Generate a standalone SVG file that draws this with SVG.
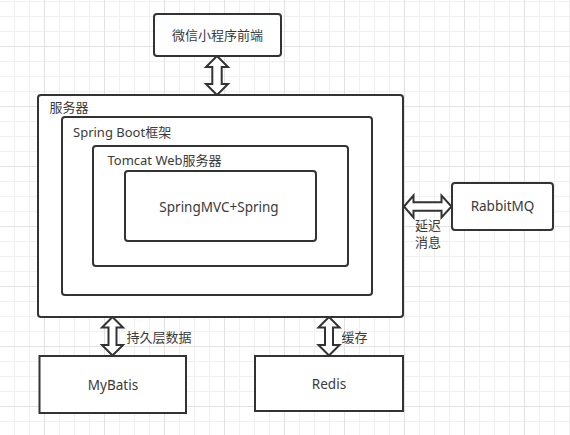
<svg xmlns="http://www.w3.org/2000/svg" width="570" height="435" viewBox="0 0 570 435">
<defs>
<pattern id="grid" patternUnits="userSpaceOnUse" x="44" y="46" width="60" height="60">
<rect width="60" height="60" fill="#ffffff"/>
<rect x="15" y="0" width="1" height="60" fill="#f0f0f0"/>
<rect x="30" y="0" width="1" height="60" fill="#f0f0f0"/>
<rect x="45" y="0" width="1" height="60" fill="#f0f0f0"/>
<rect x="0" y="15" width="60" height="1" fill="#f0f0f0"/>
<rect x="0" y="30" width="60" height="1" fill="#f0f0f0"/>
<rect x="0" y="45" width="60" height="1" fill="#f0f0f0"/>
<rect x="0" y="0" width="1" height="60" fill="#e2e2e2"/>
<rect x="0" y="0" width="60" height="1" fill="#e2e2e2"/>
</pattern>
</defs>
<style>
.box{fill:#ffffff;stroke:#333333;stroke-width:2}
.arrow{fill:#ffffff;stroke:#333333;stroke-width:2;stroke-linejoin:miter}
.t{font-family:"Noto Sans","Noto Sans CJK SC","Microsoft YaHei",sans-serif;font-size:13px;fill:#3a3a3a}
.l{font-size:13.5px}
.c{text-anchor:middle}
</style>
<rect width="570" height="435" fill="url(#grid)"/>

<g id="connectors">
<polygon class="arrow" points="217,56 228,67 221.7,67 221.7,84 228,84 217,95 206,84 212.3,84 212.3,67 206,67"/>
<polygon class="arrow" points="404,206.5 413.5,195.5 413.5,202.2 441.5,202.2 441.5,195.5 451.5,206.5 441.5,217.5 441.5,210.8 413.5,210.8 413.5,217.5"/>
<polygon class="arrow" points="112.5,317 123,327.5 116.5,327.5 116.5,345 123,345 112.5,355.5 102,345 108.5,345 108.5,327.5 102,327.5"/>
<polygon class="arrow" points="329,317 339.5,327.5 333,327.5 333,345 339.5,345 329,355.5 318.5,345 325,345 325,327.5 318.5,327.5"/>
<text class="t"><tspan x="415" y="230">延迟</tspan><tspan x="415" y="246.5">消息</tspan></text>
<text class="t" x="126.5" y="341.5">持久层数据</text>
<text class="t" x="341.5" y="341.5">缓存</text>
</g>

<g id="node-wechat">
<rect class="box" x="154" y="14" width="127" height="42" rx="3"/>
<text class="t c" x="217.5" y="39.5">微信小程序前端</text>
</g>

<g id="node-server">
<rect class="box" x="38" y="95" width="365" height="222" rx="3"/>
<text class="t" x="49.5" y="111.5">服务器</text>
</g>

<g id="node-springboot">
<rect class="box" x="62" y="117" width="310" height="178" rx="3"/>
<text class="t" x="73" y="137">Spring Boot框架</text>
</g>

<g id="node-tomcat">
<rect class="box" x="93" y="146" width="255" height="120" rx="3"/>
<text class="t" x="107.5" y="165">Tomcat Web服务器</text>
</g>

<g id="node-springmvc">
<rect class="box" x="125" y="171" width="191" height="70" rx="3"/>
<text class="t l c" x="219" y="211.5">SpringMVC+Spring</text>
</g>

<g id="node-rabbitmq">
<rect class="box" x="452" y="183" width="101" height="47" rx="3"/>
<text class="t l c" x="502.5" y="211">RabbitMQ</text>
</g>

<g id="node-mybatis">
<rect class="box" x="39.5" y="356" width="146.5" height="57"/>
<text class="t l c" x="113" y="389.5">MyBatis</text>
</g>

<g id="node-redis">
<rect class="box" x="255" y="356" width="148" height="55"/>
<text class="t l c" x="329" y="389">Redis</text>
</g>
</svg>
